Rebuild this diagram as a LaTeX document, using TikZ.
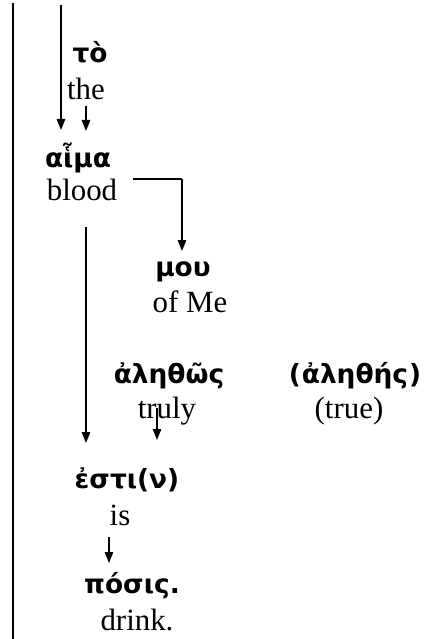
\documentclass[tikz,border=0pt]{standalone}
\usepackage{fontspec}
\setmainfont{Liberation Serif}
\newfontfamily\grk{DejaVu Sans}[BoldFont={DejaVu Sans Bold}]
\usetikzlibrary{arrows.meta}
\begin{document}
\begin{tikzpicture}[x=1bp,y=-1bp,
  gr/.style={anchor=base,inner sep=0pt,font=\grk\bfseries\fontsize{26.5}{26.5}\selectfont},
  en/.style={anchor=base,inner sep=0pt,font=\fontsize{31}{31}\selectfont},
  arr/.style={line width=1.3bp,-{Triangle[length=11bp,width=8.5bp]}},
  ln/.style={line width=1.3bp}]
\useasboundingbox (0,0) rectangle (426,639);
% left border
\coordinate (b1) at (13,3);
\coordinate (b2) at (13,639);
\draw[ln] (b1) -- (b2);
% words
\node[gr] (to) at (90,63) {τὸ};
\node[en] (the) at (86,100) {the};
\node[gr] (aima) at (78,168) {αἷμα};
\node[en] (blood) at (82,200) {blood};
\node[gr] (mou) at (183,276) {μου};
\node[en] (ofme) at (190,312) {of Me};
\node[gr] (alethos) at (169,383) {ἀληθῶς};
\node[en] (truly) at (167,418) {truly};
\node[gr] (alethes) at (355,383) {(\kern1bpἀληθής\kern1bp)};
\node[en] (true) at (349,418) {(true)};
\node[gr] (estin) at (127,488) {ἐστι(ν)};
\node[en] (is) at (120,525) {is};
\node[gr] (posis) at (132,593) {πόσις.};
\node[en] (drink) at (137,630) {drink.};
% connectors
\coordinate (a1s) at (61,5);
\coordinate (a1e) at (61,130);
\draw[arr] (a1s) -- (a1e);
\coordinate (a2s) at (86,106);
\coordinate (a2e) at (86,131);
\draw[arr] (a2s) -- (a2e);
\coordinate (e1) at (133,179);
\coordinate (e2) at (182,179);
\coordinate (e3) at (182,251);
\draw[ln] (e1) -- (e2);
\draw[arr] (e2) -- (e3);
\coordinate (l1) at (86,227);
\coordinate (l2) at (86,443);
\draw[arr] (l1) -- (l2);
\coordinate (t1) at (157,408);
\coordinate (t2) at (157,440);
\draw[arr] (t1) -- (t2);
\coordinate (i1) at (109,537);
\coordinate (i2) at (109,563);
\draw[arr] (i1) -- (i2);
\end{tikzpicture}
\end{document}
